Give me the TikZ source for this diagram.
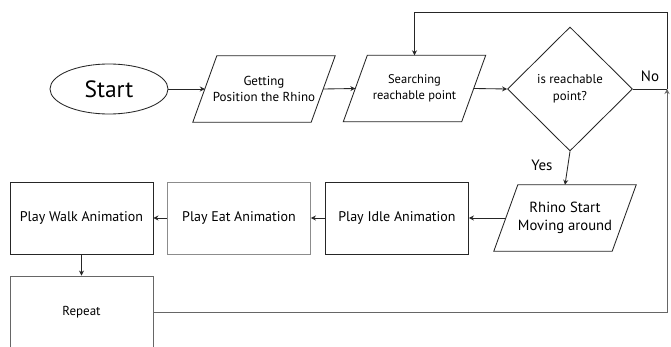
\documentclass[tikz,border=0pt]{standalone}
\usepackage{fontspec}
\setmainfont{PT Sans}
\usetikzlibrary{shapes.geometric,arrows.meta}
\tikzset{
  base/.style={draw=black!85, line width=0.85pt, inner sep=0pt, align=center},
  para/.style={rectangle, inner sep=0pt, align=center, minimum width=118pt, minimum height=66pt},
  box/.style={base, rectangle, minimum width=143pt, minimum height=72pt},
  conn/.style={draw=black!85, line width=0.85pt},
  arr/.style={conn, -{Stealth[length=5pt,width=5pt]}},
  lbl/.style={font=\fontsize{14}{17}\selectfont},
}
\begin{document}
\begin{tikzpicture}[x=1pt,y=-1pt]
\clip (0,0) rectangle (671,347);
\fill[white] (0,0) rectangle (671,347);
\node[base, ellipse, minimum width=118pt, minimum height=50pt, font=\fontsize{23.5}{27}\selectfont] (start) at (109,89) {Start};
\node[para, font=\fontsize{13}{16}\selectfont] (get) at (264,89) {Getting\\Position the Rhino};
\node[para, font=\fontsize{12.5}{15.7}\selectfont] (srch) at (414.5,88.5) {Searching\\reachable point};
\node[base, diamond, minimum width=125pt, minimum height=124pt, font=\fontsize{12.8}{16.5}\selectfont] (dia) at (570,89) {is reachable\\point?};
\node[para, font=\fontsize{14.7}{18}\selectfont] (rhino) at (565,218) {Rhino Start\\Moving around};
\node[box, lbl] (idle) at (397,218) {Play Idle Animation};
\node[box, lbl, draw=black!45] (eat) at (239,218) {Play Eat Animation};
\node[box, lbl] (walk) at (81.5,218) {Play Walk Animation};
\node[box, draw=black!60, font=\fontsize{13}{16}\selectfont] (rep) at (81.5,312) {Repeat};
\node[font=\fontsize{15}{18}\selectfont] (no) at (650,76) {No};
\node[font=\fontsize{15}{18}\selectfont] (yes) at (542,165) {Yes};
\foreach \n in {get,srch,rhino}
  \draw[base] ([xshift=12pt]\n.north west) -- ([xshift=12pt]\n.north east)
    -- ([xshift=-12pt]\n.south east) -- ([xshift=-12pt]\n.south west) -- cycle;
\coordinate (j) at (667,89);
\coordinate (top) at (667,12);
\draw[arr] (start.east) -- (get.west);
\draw[arr] (get.east) -- (srch.west);
\draw[arr] (srch.east) -- (dia.west);
\draw[conn] (dia.east) -- (j);
\draw[arr] (j) -- (top) -| (srch.north);
\draw[arr] (dia.south) -- (rhino.north);
\draw[arr] (rhino.west) -- (idle.east);
\draw[arr] (idle.west) -- (eat.east);
\draw[arr] (eat.west) -- (walk.east);
\draw[arr] (walk.south) -- (rep.north);
\draw[arr, draw=black!60] (rep.east) -| (j);
\end{tikzpicture}
\end{document}
